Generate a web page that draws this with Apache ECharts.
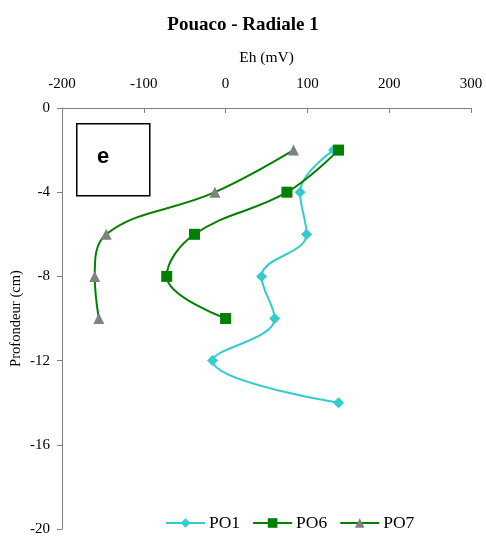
<!DOCTYPE html>
<html><head><meta charset="utf-8">
<script src="https://cdn.jsdelivr.net/npm/echarts@6/dist/echarts.min.js"></script>
<style>html,body{margin:0;padding:0;background:#fff}#c{width:486px;height:537px}</style>
</head><body><div id="c"></div>
<script>
const depths = [-2, -4, -6, -8, -10, -12, -14];
const po1 = [132, 91, 99, 44, 60, -16, 138];
const po6 = [138, 75, -38, -72, 0];
const po7 = [83, -13, -146, -160, -155];
const xTicks = [-200, -100, 0, 100, 200, 300];
const yTicks = [0, -4, -8, -12, -16, -20];

const font = 'Liberation Serif';
const pairs = (vals) => vals.map((v, i) => [v, depths[i]]);

const chart = echarts.init(document.getElementById('c'), null, {renderer: 'canvas'});
chart.setOption({
  animation: false,
  textStyle: {fontFamily: font},
  title: {text: 'Pouaco - Radiale 1', left: 'center', top: 11,
    textStyle: {fontFamily: font, fontSize: 19, fontWeight: 'bold', color: '#000'}},
  grid: {left: 62, right: 15, top: 108, bottom: 8, containLabel: false, outerBoundsMode: 'none'},
  xAxis: {type: 'value', position: 'top', min: -200, max: 300, interval: 100,
    name: 'Eh (mV)', nameLocation: 'middle', nameGap: 42, nameMoveOverlap: false,
    nameTextStyle: {fontFamily: font, fontSize: 15.5, color: '#000'},
    axisLine: {show: true, onZero: false, lineStyle: {color: '#808080', width: 1}},
    axisTick: {show: true, inside: true, length: 5, lineStyle: {color: '#808080'}},
    axisLabel: {fontFamily: font, fontSize: 15, color: '#000', margin: 16},
    splitLine: {show: false}},
  yAxis: {type: 'value', min: -20, max: 0, interval: 4,
    name: 'Profondeur (cm)', nameLocation: 'middle', nameGap: 38, nameRotate: 90, nameMoveOverlap: false,
    nameTextStyle: {fontFamily: font, fontSize: 14.6, color: '#000'},
    axisLine: {show: true, onZero: false, lineStyle: {color: '#808080', width: 1}},
    axisTick: {show: true, inside: false, length: 5, lineStyle: {color: '#808080'}},
    axisLabel: {fontFamily: font, fontSize: 15, color: '#000', margin: 12},
    splitLine: {show: false}},
  legend: {top: 514, left: 165, padding: 0, itemGap: 12, itemWidth: 39, itemHeight: 12,
    textStyle: {fontFamily: font, fontSize: 17.5, color: '#000', padding: [0,0,0,-1]},
    data: ['PO1', 'PO6', 'PO7']},
  graphic: [
    {type: 'rect', left: 76, top: 123, shape: {width: 73, height: 72},
      style: {fill: '#fff', stroke: '#000', lineWidth: 1.5}},
    {type: 'text', left: 97, top: 146, style: {text: 'e', font: 'bold 22px "Liberation Sans"', fill: '#000'}}
  ],
  series: [
    {name: 'PO1', type: 'line', data: pairs(po1), smooth: 0.4, symbol: 'diamond', symbolSize: 11,
      lineStyle: {color: '#33CCCC', width: 2}, itemStyle: {color: '#33CCCC'}},
    {name: 'PO6', type: 'line', data: pairs(po6), smooth: 0.4, symbol: 'rect', symbolSize: 11,
      lineStyle: {color: '#008000', width: 2}, itemStyle: {color: '#008000'}},
    {name: 'PO7', type: 'line', data: pairs(po7), smooth: 0.4, symbol: 'triangle', symbolSize: 11,
      lineStyle: {color: '#008000', width: 2}, itemStyle: {color: '#808080'}}
  ]
});
</script></body></html>
